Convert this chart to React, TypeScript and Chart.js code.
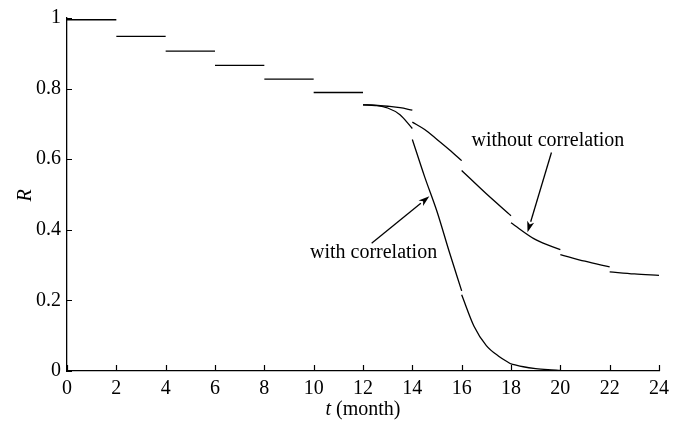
import React, { useEffect, useRef } from "react";
import { Chart, registerables } from "chart.js";

Chart.register(...registerables);

// x tick values (months) and y tick values
const xTicks = [0, 2, 4, 6, 8, 10, 12, 14, 16, 18, 20, 22, 24];
const yTicks = [0, 0.2, 0.4, 0.6, 0.8, 1];
const yTickLabels = ["0", "0.2", "0.4", "0.6", "0.8", "1"];

// flat reliability steps for 0-12 months (start month of each 2-month interval)
const stepStarts = [0, 2, 4, 6, 8, 10];
const stepValues = [0.995, 0.948, 0.906, 0.866, 0.827, 0.789];

// "with correlation" segments
const wc12T = [12, 12.5, 13, 13.5, 14];
const wc12R = [0.754, 0.752, 0.745, 0.726, 0.687];
const wc14T = [14, 14.5, 15, 15.5, 16];
const wc14R = [0.656, 0.55, 0.452, 0.337, 0.227];
const wc16T = [16, 16.5, 17, 17.5, 18];
const wc16R = [0.216, 0.127, 0.072, 0.042, 0.02];
const wc18T = [18, 18.5, 19, 19.5, 20];
const wc18R = [0.02, 0.012, 0.007, 0.004, 0.002];
const wc20T = [20, 22, 24];
const wc20R = [0.001, 0.0, 0.0];

// "without correlation" segments
const wo12T = [12, 12.5, 13, 13.5, 14];
const wo12R = [0.754, 0.753, 0.75, 0.746, 0.739];
const wo14T = [14, 14.5, 15, 15.5, 16];
const wo14R = [0.705, 0.684, 0.656, 0.627, 0.596];
const wo16T = [16, 17, 18];
const wo16R = [0.568, 0.502, 0.44];
const wo18T = [18, 19, 20];
const wo18R = [0.42, 0.372, 0.344];
const wo20T = [20, 21, 22];
const wo20R = [0.33, 0.311, 0.295];
const wo22T = [22, 23, 24];
const wo22R = [0.281, 0.275, 0.271];

// annotation labels: [text, t, R] (left/baseline anchor)
const labelWith = { text: "with correlation", t: 9.85, r: 0.32 };
const labelWithout = { text: "without correlation", t: 16.4, r: 0.636 };
// arrows: from (t,R) to tip (t,R)
const arrowWith = { from: [12.35, 0.362], to: [14.69, 0.495] };
const arrowWithout = { from: [19.64, 0.619], to: [18.67, 0.393] };

const FONT = "'Liberation Serif', 'Times New Roman', serif";
const INK = "#000";

function seg(ts: number[], rs: number[]) {
  return {
    data: ts.map((t, i) => ({ x: t, y: rs[i] })),
    borderColor: INK,
    borderWidth: 1.3,
    pointRadius: 0,
    fill: false,
    cubicInterpolationMode: "monotone" as const,
  };
}

const decorPlugin = {
  id: "decor",
  afterDraw(chart: any) {
    const { ctx, chartArea, scales } = chart;
    const xs = scales.x;
    const ys = scales.y;
    ctx.save();
    ctx.strokeStyle = INK;
    ctx.fillStyle = INK;
    ctx.lineWidth = 1.2;
    // inward ticks
    ctx.beginPath();
    xTicks.forEach((v) => {
      const px = Math.round(xs.getPixelForValue(v)) + 0.5;
      ctx.moveTo(px, chartArea.bottom);
      ctx.lineTo(px, chartArea.bottom - 6);
    });
    yTicks.forEach((v) => {
      const py = Math.round(ys.getPixelForValue(v)) + 0.5;
      ctx.moveTo(chartArea.left, py);
      ctx.lineTo(chartArea.left + 5, py);
    });
    ctx.stroke();

    // annotations
    ctx.font = `20px ${FONT}`;
    ctx.textBaseline = "alphabetic";
    ctx.textAlign = "left";
    [labelWith, labelWithout].forEach((l) => {
      ctx.fillText(l.text, xs.getPixelForValue(l.t), ys.getPixelForValue(l.r));
    });

    // arrows
    [arrowWith, arrowWithout].forEach((a) => {
      const x0 = xs.getPixelForValue(a.from[0]);
      const y0 = ys.getPixelForValue(a.from[1]);
      const x1 = xs.getPixelForValue(a.to[0]);
      const y1 = ys.getPixelForValue(a.to[1]);
      const ang = Math.atan2(y1 - y0, x1 - x0);
      const len = 11;
      const half = 3.6;
      const bx = x1 - len * Math.cos(ang);
      const by = y1 - len * Math.sin(ang);
      ctx.lineWidth = 1.3;
      ctx.beginPath();
      ctx.moveTo(x0, y0);
      ctx.lineTo(bx, by);
      ctx.stroke();
      ctx.beginPath();
      ctx.moveTo(x1, y1);
      ctx.lineTo(bx + half * Math.sin(ang), by - half * Math.cos(ang));
      ctx.lineTo(bx + 3 * Math.cos(ang), by + 3 * Math.sin(ang));
      ctx.lineTo(bx - half * Math.sin(ang), by + half * Math.cos(ang));
      ctx.closePath();
      ctx.fill();
    });

    // x axis title: italic t + (month)
    const cx = (chartArea.left + chartArea.right) / 2;
    const by = chartArea.bottom + 44;
    ctx.font = `italic 20px ${FONT}`;
    const tW = ctx.measureText("t").width;
    ctx.font = `20px ${FONT}`;
    const restW = ctx.measureText(" (month)").width;
    const startX = cx - (tW + restW) / 2;
    ctx.font = `italic 20px ${FONT}`;
    ctx.fillText("t", startX, by);
    ctx.font = `20px ${FONT}`;
    ctx.fillText(" (month)", startX + tW, by);

    // y axis title: italic R rotated
    ctx.translate(chartArea.left - 36, (chartArea.top + chartArea.bottom) / 2 + 1);
    ctx.rotate(-Math.PI / 2);
    ctx.font = `italic 20px ${FONT}`;
    ctx.textAlign = "center";
    ctx.fillText("R", 0, 0);
    ctx.restore();
  },
};

export default function App() {
  const ref = useRef<HTMLCanvasElement>(null);
  useEffect(() => {
    if (!ref.current) return;
    const datasets: any[] = [];
    stepStarts.forEach((s, i) => {
      datasets.push(seg([s, s + 2], [stepValues[i], stepValues[i]]));
    });
    [
      [wc12T, wc12R], [wc14T, wc14R], [wc16T, wc16R], [wc18T, wc18R], [wc20T, wc20R],
      [wo12T, wo12R], [wo14T, wo14R], [wo16T, wo16R], [wo18T, wo18R], [wo20T, wo20R], [wo22T, wo22R],
    ].forEach(([t, r]) => datasets.push(seg(t as number[], r as number[])));

    const chart = new Chart(ref.current, {
      type: "line",
      data: { datasets },
      options: {
        responsive: false,
        animation: false,
        events: [],
        layout: { padding: { left: 0, right: 35, top: 13, bottom: 0 } },
        plugins: { legend: { display: false }, tooltip: { enabled: false } },
        scales: {
          x: {
            type: "linear",
            min: 0,
            max: 24,
            afterFit: (s: any) => { s.height = 53; },
            afterBuildTicks: (s: any) => { s.ticks = xTicks.map((v) => ({ value: v })); },
            grid: { display: false, drawTicks: false },
            border: { display: true, color: INK, width: 1.3 },
            ticks: { color: INK, padding: 6, maxRotation: 0, autoSkip: false, font: { family: FONT, size: 20 } },
          },
          y: {
            type: "linear",
            min: 0,
            max: 1,
            afterFit: (s: any) => { s.width = 67; },
            afterBuildTicks: (s: any) => { s.ticks = yTicks.map((v) => ({ value: v })); },
            grid: { display: false, drawTicks: false },
            border: { display: true, color: INK, width: 1.3 },
            ticks: {
              color: INK,
              padding: 6,
              autoSkip: false,
              font: { family: FONT, size: 20 },
              callback: (v: any) => {
                const i = yTicks.indexOf(Number(v));
                return i >= 0 ? yTickLabels[i] : String(v);
              },
            },
          },
        },
      },
      plugins: [decorPlugin],
    });
    return () => chart.destroy();
  }, []);
  return (
    <div style={{ position: "fixed", left: 0, top: 0, width: 694, height: 424, background: "#fff" }}>
      <canvas ref={ref} width={694} height={424} style={{ display: "block" }} />
    </div>
  );
}
